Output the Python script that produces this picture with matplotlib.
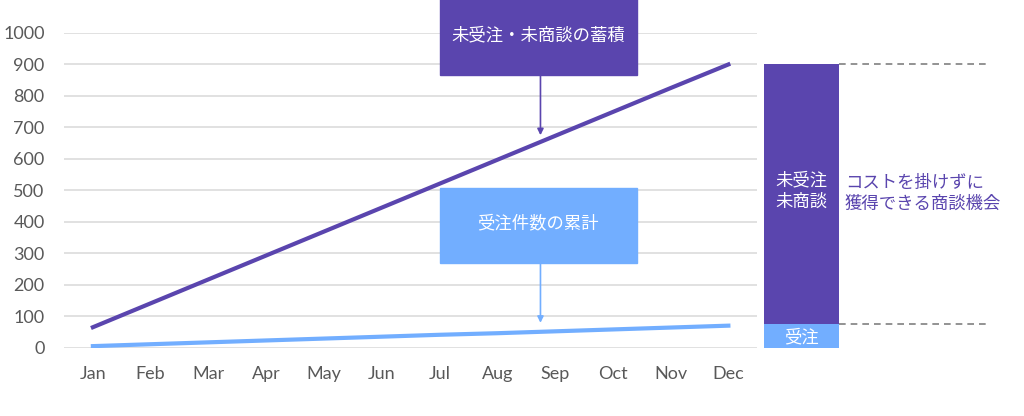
import matplotlib
matplotlib.use("Agg")
import matplotlib.pyplot as plt
from matplotlib.patches import Rectangle

plt.rcParams['font.family'] = ['Lato', 'Noto Sans CJK JP', 'DejaVu Sans']

# data
months = ['Jan', 'Feb', 'Mar', 'Apr', 'May', 'Jun',
          'Jul', 'Aug', 'Sep', 'Oct', 'Nov', 'Dec']
open_leads = [65, 141, 217, 293, 369, 445, 521, 597, 673, 749, 825, 900]
won_orders = [5, 11, 17, 23, 29, 35, 41, 46, 52, 58, 64, 70]
yticks = [0, 100, 200, 300, 400, 500, 600, 700, 800, 900, 1000]

bar_won = 76
bar_open = 824

PURPLE = '#5A45AE'
LIGHT = '#72AEFF'
GRAY = '#595959'
JP = ['Noto Sans CJK JP', 'DejaVu Sans']

fig = plt.figure(figsize=(10.24, 4.16), dpi=100)
ax = fig.add_axes([0.0625, 0.1642, 0.677, 0.7565])

x = list(range(len(months)))
ax.plot(x, open_leads, color=PURPLE, lw=3, solid_capstyle='projecting', zorder=3)
ax.plot(x, won_orders, color=LIGHT, lw=3, solid_capstyle='projecting', zorder=3)

ax.set_xlim(-0.5, 11.5)
ax.set_ylim(0, 1000)
ax.set_yticks(yticks)
ax.set_xticks(x)
ax.set_xticklabels(months)
ax.grid(axis='y', color='#d9d9d9', lw=1.1)
ax.set_axisbelow(True)
for s in ax.spines.values():
    s.set_visible(False)
ax.tick_params(axis='both', length=0, labelsize=13, colors=GRAY)
ax.tick_params(axis='y', pad=14)
ax.tick_params(axis='x', pad=13)

# stacked bar on the right
axb = fig.add_axes([0.746, 0.1642, 0.0732, 0.7565])
axb.set_xlim(0, 1)
axb.set_ylim(0, 1000)
axb.axis('off')
axb.bar(0.5, bar_won, width=1, color=LIGHT, clip_on=False)
axb.bar(0.5, bar_open, width=1, bottom=bar_won, color=PURPLE, clip_on=False)
total = bar_won + bar_open
axb.plot([1, 2.99], [total, total], ls=(0, (4, 3)), color='#808080', lw=1.2, clip_on=False)
axb.plot([1, 2.99], [bar_won, bar_won], ls=(0, (4, 3)), color='#808080', lw=1.2, clip_on=False)
axb.text(0.5, bar_won + bar_open / 2 + 10, '未受注\n未商談', ha='center', va='center',
         color='white', fontsize=12.5, family=JP, linespacing=1.2)
axb.text(0.5, bar_won / 2 - 4, '受注', ha='center', va='center',
         color='white', fontsize=12.5, family=JP)
axb.text(1.08, 490, 'コストを掛けずに\n獲得できる商談機会', ha='left', va='center',
         color=PURPLE, fontsize=12.5, family=JP, linespacing=1.2, clip_on=False)

# callout boxes
fig.patches.append(Rectangle((0.4297, 0.8197), 0.1924, 0.19, transform=fig.transFigure,
                             color=PURPLE, zorder=5))
fig.text(0.5254, 0.916, '未受注・未商談の蓄積', ha='center', va='center',
         color='white', fontsize=12.5, family=JP, zorder=6)
fig.patches.append(Rectangle((0.4297, 0.368), 0.1924, 0.18, transform=fig.transFigure,
                             color=LIGHT, zorder=5))
fig.text(0.5254, 0.464, '受注件数の累計', ha='center', va='center',
         color='white', fontsize=12.5, family=JP, zorder=6)

ax.annotate('', xy=(0.5278, 0.675), xytext=(0.5278, 0.8197),
            xycoords='figure fraction', textcoords='figure fraction',
            arrowprops=dict(arrowstyle='-|>', color=PURPLE, lw=1.2,
                            mutation_scale=9, shrinkA=0, shrinkB=0))
ax.annotate('', xy=(0.5278, 0.224), xytext=(0.5278, 0.368),
            xycoords='figure fraction', textcoords='figure fraction',
            arrowprops=dict(arrowstyle='-|>', color=LIGHT, lw=1.2,
                            mutation_scale=9, shrinkA=0, shrinkB=0))

fig.savefig('out.png', dpi=100)
